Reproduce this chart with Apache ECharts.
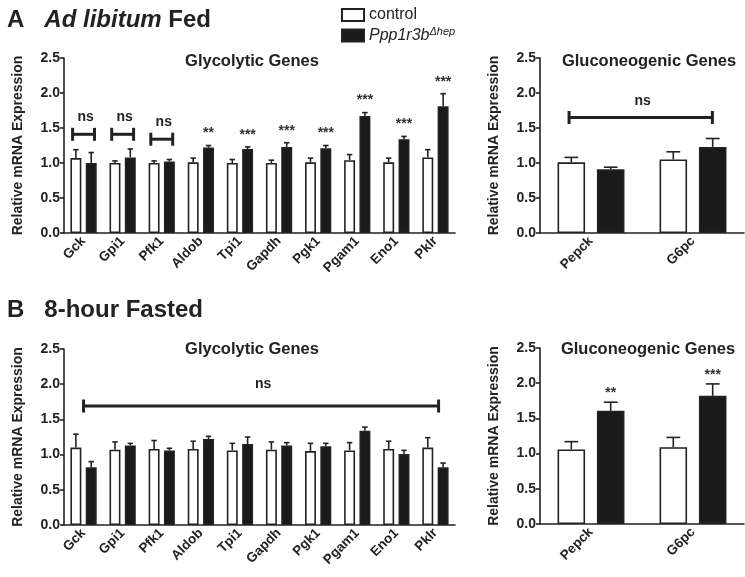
<!DOCTYPE html>
<html>
<head>
<meta charset="utf-8">
<script src="https://cdn.jsdelivr.net/npm/echarts@6/dist/echarts.min.js"></script>
<style>
html,body{margin:0;padding:0;background:#fff;}
#main{width:745px;height:577px;}
</style>
</head>
<body>
<div id="main"></div>
<script>
// ---------- DATA ----------
var glycoGenes = ['Gck','Gpi1','Pfk1','Aldob','Tpi1','Gapdh','Pgk1','Pgam1','Eno1','Pklr'];
var gluconeoGenes = ['Pepck','G6pc'];
var yTicks = [0, 0.5, 1.0, 1.5, 2.0, 2.5];

// A: Ad libitum fed
var fedGlyControl    = [1.07, 1.00, 1.00, 1.01, 1.00, 1.00, 1.01, 1.04, 1.01, 1.08];
var fedGlyControlSem = [0.12, 0.03, 0.03, 0.06, 0.05, 0.04, 0.06, 0.08, 0.06, 0.11];
var fedGlyKO         = [1.00, 1.08, 1.02, 1.22, 1.20, 1.23, 1.21, 1.67, 1.34, 1.81];
var fedGlyKOSem      = [0.15, 0.12, 0.03, 0.03, 0.03, 0.06, 0.04, 0.05, 0.04, 0.18];
var fedGlyStars      = ['', '', '', '**', '***', '***', '***', '***', '***', '***'];
var fedGlyNs         = [[0, 0, 1.41], [1, 1, 1.41], [2, 2, 1.34]];

var fedGluControl    = [1.01, 1.05];
var fedGluControlSem = [0.07, 0.11];
var fedGluKO         = [0.91, 1.23];
var fedGluKOSem      = [0.03, 0.12];
var fedGluStars      = ['', ''];
var fedGluNs         = [[0, 1, 1.65]];

// B: 8-hour fasted
var fastGlyControl    = [1.10, 1.07, 1.08, 1.08, 1.06, 1.07, 1.05, 1.06, 1.08, 1.10];
var fastGlyControlSem = [0.19, 0.11, 0.12, 0.11, 0.10, 0.11, 0.11, 0.11, 0.11, 0.14];
var fastGlyKO         = [0.82, 1.13, 1.06, 1.22, 1.15, 1.13, 1.12, 1.34, 1.01, 0.82];
var fastGlyKOSem      = [0.08, 0.03, 0.03, 0.04, 0.10, 0.04, 0.04, 0.05, 0.05, 0.06];
var fastGlyStars      = ['', '', '', '', '', '', '', '', '', ''];
var fastGlyNs         = [[0, 9, 1.69]];

var fastGluControl    = [1.06, 1.09];
var fastGluControlSem = [0.11, 0.14];
var fastGluKO         = [1.61, 1.82];
var fastGluKOSem      = [0.12, 0.17];
var fastGluStars      = ['**', '***'];
var fastGluNs         = [];

// ---------- STYLE ----------
var FONT = '"Liberation Sans", Arial, sans-serif';
var INK = '#222';
var chart = echarts.init(document.getElementById('main'), null, {renderer: 'canvas'});

var panels = [
  {cats: glycoGenes, c: fedGlyControl, cs: fedGlyControlSem, k: fedGlyKO, ks: fedGlyKOSem, stars: fedGlyStars, ns: fedGlyNs,
   grid: {left: 64, top: 58, width: 391, height: 175}, barW: 0.28, gap: 0.4, nsL: -0.28, nsR: 0.28, nsH: 17, starH: 12},
  {cats: gluconeoGenes, c: fedGluControl, cs: fedGluControlSem, k: fedGluKO, ks: fedGluKOSem, stars: fedGluStars, ns: fedGluNs,
   grid: {left: 540, top: 58, width: 204, height: 175}, barW: 0.27, gap: 0.43, nsL: -0.215, nsR: 0.19, nsH: 16, starH: 10},
  {cats: glycoGenes, c: fastGlyControl, cs: fastGlyControlSem, k: fastGlyKO, ks: fastGlyKOSem, stars: fastGlyStars, ns: fastGlyNs,
   grid: {left: 64, top: 349, width: 391, height: 176}, barW: 0.28, gap: 0.4, nsL: 0, nsR: 0.08, nsH: 22, starH: 12},
  {cats: gluconeoGenes, c: fastGluControl, cs: fastGluControlSem, k: fastGluKO, ks: fastGluKOSem, stars: fastGluStars, ns: fastGluNs,
   grid: {left: 540, top: 348, width: 204, height: 176}, barW: 0.27, gap: 0.43, nsL: -0.215, nsR: 0.19, nsH: 16, starH: 9}
];

var grids = [], xAxes = [], yAxes = [], series = [];

function errRender(p, side, stars) {
  return function (params, api) {
    var i = api.value(0), v = api.value(1), e = api.value(2);
    var band = api.size([1, 0])[0];
    var bw = band * p.barW;
    var off = side * bw * (1 + p.gap) / 2;
    var b = api.coord([i, v]);
    var t = api.coord([i, v + e]);
    var x = b[0] + off;
    var cap = bw * 0.5;
    var ch = [
      {type: 'line', shape: {x1: x, y1: b[1], x2: x, y2: t[1]}, style: {stroke: INK, lineWidth: 1.6}},
      {type: 'line', shape: {x1: x - cap / 2, y1: t[1], x2: x + cap / 2, y2: t[1]}, style: {stroke: INK, lineWidth: 1.6}}
    ];
    var s = stars ? stars[params.dataIndex] : '';
    if (s) {
      ch.push({type: 'text', style: {text: s, x: x, y: t[1] - p.starH, align: 'center', verticalAlign: 'middle',
        font: 'bold 14px ' + FONT, fill: '#333'}});
    }
    return {type: 'group', children: ch};
  };
}

function nsRender(p) {
  return function (params, api) {
    var a = api.value(0), b = api.value(1), y = api.value(2);
    var band = api.size([1, 0])[0];
    var p1 = api.coord([a, y]), p2 = api.coord([b, y]);
    var x1 = p1[0] + p.nsL * band, x2 = p2[0] + p.nsR * band, yy = p1[1];
    var st = {stroke: INK, lineWidth: 3};
    return {type: 'group', children: [
      {type: 'line', shape: {x1: x1, y1: yy, x2: x2, y2: yy}, style: st},
      {type: 'line', shape: {x1: x1, y1: yy - 6.5, x2: x1, y2: yy + 6.5}, style: st},
      {type: 'line', shape: {x1: x2, y1: yy - 6.5, x2: x2, y2: yy + 6.5}, style: st},
      {type: 'text', style: {text: 'ns', x: (x1 + x2) / 2 + 2, y: yy - p.nsH, align: 'center', verticalAlign: 'middle',
        font: 'bold 14px ' + FONT, fill: INK}}
    ]};
  };
}

panels.forEach(function (p, gi) {
  grids.push(p.grid);
  xAxes.push({
    type: 'category', gridIndex: gi, data: p.cats, boundaryGap: true,
    axisLine: {lineStyle: {color: INK, width: 1.6}},
    axisTick: {alignWithLabel: true, length: 4, lineStyle: {color: INK, width: 1.6}},
    axisLabel: {rotate: 45, margin: 6, color: INK, fontFamily: FONT, fontWeight: 'bold', fontSize: 13.5, interval: 0}
  });
  yAxes.push({
    type: 'value', gridIndex: gi, min: yTicks[0], max: yTicks[yTicks.length - 1], interval: 0.5,
    name: 'Relative mRNA Expression', nameLocation: 'middle', nameGap: 39,
    nameTextStyle: {color: INK, fontFamily: FONT, fontWeight: 'bold', fontSize: 14},
    axisLine: {show: true, lineStyle: {color: INK, width: 1.6}},
    axisTick: {show: true, length: 4, lineStyle: {color: INK, width: 1.6}},
    splitLine: {show: false},
    axisLabel: {color: INK, fontFamily: FONT, fontWeight: 'bold', fontSize: 14, margin: 4,
      formatter: function (v) { return v.toFixed(1); }}
  });
  series.push({
    type: 'bar', name: 'control', xAxisIndex: gi, yAxisIndex: gi, data: p.c,
    barWidth: (p.barW * 100) + '%', barGap: (p.gap * 100) + '%',
    itemStyle: {color: '#ffffff', borderColor: INK, borderWidth: 1.6}
  });
  series.push({
    type: 'bar', name: 'Ppp1r3b', xAxisIndex: gi, yAxisIndex: gi, data: p.k,
    barWidth: (p.barW * 100) + '%', barGap: (p.gap * 100) + '%',
    itemStyle: {color: '#1a1a1a', borderColor: INK, borderWidth: 1.6}
  });
  series.push({
    type: 'custom', name: 'errC' + gi, xAxisIndex: gi, yAxisIndex: gi, clip: false,
    renderItem: errRender(p, -1, null),
    data: p.c.map(function (v, i) { return [i, v, p.cs[i]]; }), z: 5
  });
  series.push({
    type: 'custom', name: 'errK' + gi, xAxisIndex: gi, yAxisIndex: gi, clip: false,
    renderItem: errRender(p, 1, p.stars),
    data: p.k.map(function (v, i) { return [i, v, p.ks[i]]; }), z: 5
  });
  if (p.ns.length) {
    series.push({
      type: 'custom', name: 'ns' + gi, xAxisIndex: gi, yAxisIndex: gi, clip: false,
      renderItem: nsRender(p), encode: {x: [0, 1], y: 2},
      data: p.ns, z: 5
    });
  }
});

var option = {
  animation: false,
  backgroundColor: '#fff',
  textStyle: {fontFamily: FONT},
  title: [
    {text: 'A   {i|Ad libitum} Fed', left: 2, top: 3,
     textStyle: {fontFamily: FONT, fontWeight: 'bold', fontSize: 24, color: INK,
       rich: {i: {fontFamily: FONT, fontWeight: 'bold', fontStyle: 'italic', fontSize: 24, color: INK}}}},
    {text: 'B   8-hour Fasted', left: 2, top: 293,
     textStyle: {fontFamily: FONT, fontWeight: 'bold', fontSize: 24, color: INK}},
    {text: 'Glycolytic Genes', left: 247, top: 48, textAlign: 'center',
     textStyle: {fontFamily: FONT, fontWeight: 'bold', fontSize: 16.5, color: INK}},
    {text: 'Gluconeogenic Genes', left: 644, top: 48, textAlign: 'center',
     textStyle: {fontFamily: FONT, fontWeight: 'bold', fontSize: 16.5, color: INK}},
    {text: 'Glycolytic Genes', left: 247, top: 336, textAlign: 'center',
     textStyle: {fontFamily: FONT, fontWeight: 'bold', fontSize: 16.5, color: INK}},
    {text: 'Gluconeogenic Genes', left: 643, top: 336, textAlign: 'center',
     textStyle: {fontFamily: FONT, fontWeight: 'bold', fontSize: 16.5, color: INK}}
  ],
  legend: {
    data: ['control', 'Ppp1r3b'], orient: 'vertical', left: 336, top: 2,
    itemWidth: 22, itemHeight: 12, itemGap: 3, icon: 'rect',
    formatter: function (n) { return n === 'Ppp1r3b' ? '{i|Ppp1r3b}{s|\u0394hep}' : n; },
    textStyle: {fontFamily: FONT, fontSize: 16, color: INK,
      rich: {i: {fontFamily: FONT, fontStyle: 'italic', fontSize: 16, color: INK},
             s: {fontFamily: FONT, fontStyle: 'italic', fontSize: 11, color: INK, verticalAlign: 'top', padding: [0, 0, 8, 0]}}}
  },
  grid: grids, xAxis: xAxes, yAxis: yAxes, series: series
};
chart.setOption(option);
</script>
</body>
</html>
